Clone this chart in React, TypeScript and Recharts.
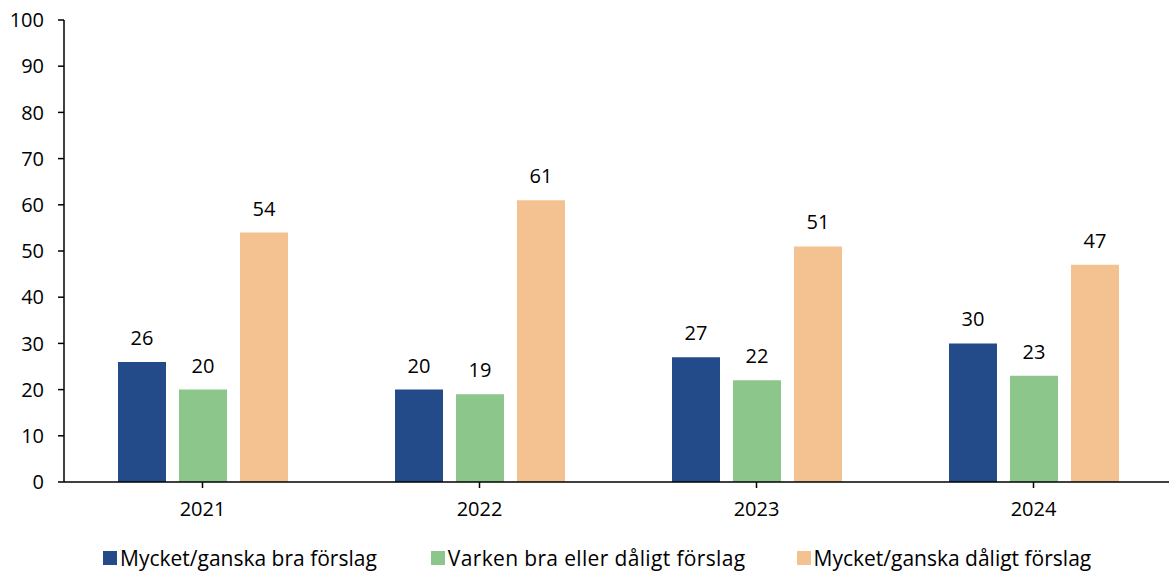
import React from "react";
import { BarChart, Bar, XAxis, YAxis, Legend, LabelList } from "recharts";

const years = ["2021", "2022", "2023", "2024"];
const good = [26, 20, 27, 30];
const neutral = [20, 19, 22, 23];
const bad = [54, 61, 51, 47];
const yTicks = [0, 10, 20, 30, 40, 50, 60, 70, 80, 90, 100];

const seriesNames = [
  "Mycket/ganska bra förslag",
  "Varken bra eller dåligt förslag",
  "Mycket/ganska dåligt förslag",
];
const colors = ["#234B89", "#8CC68A", "#F4C291"];
const legendGaps = [54, 51, 0];

const data = years.map((y, i) => ({ year: y, good: good[i], neutral: neutral[i], bad: bad[i] }));

const FONT = "'Open Sans', sans-serif";

const LegendContent = () => (
  <div
    style={{
      display: "flex",
      justifyContent: "flex-start",
      paddingLeft: 103,
      paddingTop: 8,
      boxSizing: "border-box",
      fontFamily: FONT,
      fontSize: 21,
      color: "#000",
      height: 43,
      alignItems: "center",
    }}
  >
    {seriesNames.map((n, i) => (
      <div key={n} style={{ display: "flex", alignItems: "center", marginRight: legendGaps[i] }}>
        <span style={{ display: "inline-block", width: 14, height: 14, background: colors[i], marginRight: 3 }} />
        <span style={{ letterSpacing: i === 1 ? 0.35 : 0 }}>{n}</span>
      </div>
    ))}
  </div>
);

export default function App() {
  return (
    <div style={{ position: "absolute", left: 0, top: 0, width: 1169, height: 575, overflow: "hidden", background: "#fff" }}>
      <BarChart
        width={1180}
        height={575}
        data={data}
        margin={{ top: 20, right: 8, left: 0, bottom: 0 }}
        barSize={48}
        barGap={13}
      >
        <XAxis
          dataKey="year"
          height={50}
          axisLine={{ stroke: "#000", strokeWidth: 1.5 }}
          tickLine={{ stroke: "#000", strokeWidth: 1.5 }}
          tickSize={6}
          tickMargin={14}
          tick={{ fill: "#000", fontSize: 20, fontFamily: FONT }}
        />
        <YAxis
          width={64}
          domain={[0, 100]}
          ticks={yTicks}
          interval={0}
          axisLine={{ stroke: "#000", strokeWidth: 1.5 }}
          tickLine={{ stroke: "#000", strokeWidth: 1.5 }}
          tickSize={6}
          tickMargin={14}
          tick={{ fill: "#000", fontSize: 20, fontFamily: FONT }}
        />
        <Legend verticalAlign="bottom" content={<LegendContent />} wrapperStyle={{ height: 43 }} />
        <Bar dataKey="good" name={seriesNames[0]} fill={colors[0]} isAnimationActive={false}>
          <LabelList dataKey="good" position="top" offset={17} fill="#000" fontSize={20} fontFamily={FONT} />
        </Bar>
        <Bar dataKey="neutral" name={seriesNames[1]} fill={colors[1]} isAnimationActive={false}>
          <LabelList dataKey="neutral" position="top" offset={17} fill="#000" fontSize={20} fontFamily={FONT} />
        </Bar>
        <Bar dataKey="bad" name={seriesNames[2]} fill={colors[2]} isAnimationActive={false}>
          <LabelList dataKey="bad" position="top" offset={17} fill="#000" fontSize={20} fontFamily={FONT} />
        </Bar>
      </BarChart>
    </div>
  );
}
